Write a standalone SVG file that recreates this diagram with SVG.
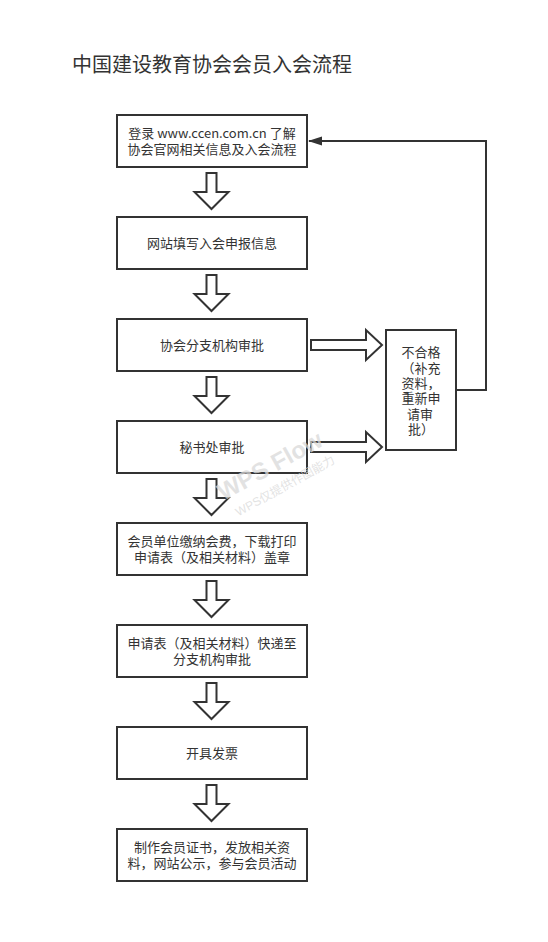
<svg xmlns="http://www.w3.org/2000/svg" width="548" height="942" viewBox="0 0 548 942">
<defs>
<style>
.box{fill:#fff;stroke:#333;stroke-width:2}
.t{font-family:"Noto Sans CJK SC","Liberation Sans",sans-serif;font-size:13px;fill:#333;text-anchor:middle}
.title{font-family:"Noto Sans CJK SC","Liberation Sans",sans-serif;font-size:20px;fill:#333}
.blk{fill:#fff;stroke:#333;stroke-width:2;stroke-linejoin:miter}
.line{fill:none;stroke:#333;stroke-width:2}
.wm{font-family:"Liberation Sans","Noto Sans CJK SC",sans-serif;fill:#d9d9d9;fill-opacity:0.75;text-anchor:middle}
</style>
<marker id="ah" markerWidth="14" markerHeight="10" refX="13" refY="5" orient="auto" markerUnits="userSpaceOnUse">
<path d="M0,0.5 L14,5 L0,9.5 Z" fill="#333"/>
</marker>
</defs>
<rect width="548" height="942" fill="#fff"/>
<text class="title" x="72" y="72">中国建设教育协会会员入会流程</text>

<g id="connectors">
<path class="blk" d="M206.5,173 H216.5 V192 H228.5 L211.5,209 L194.5,192 H206.5 Z"/>
<path class="blk" d="M206.5,275 H216.5 V294 H228.5 L211.5,311 L194.5,294 H206.5 Z"/>
<path class="blk" d="M206.5,377 H216.5 V396 H228.5 L211.5,413 L194.5,396 H206.5 Z"/>
<path class="blk" d="M206.5,479 H216.5 V498 H228.5 L211.5,515 L194.5,498 H206.5 Z"/>
<path class="blk" d="M206.5,581 H216.5 V600 H228.5 L211.5,617 L194.5,600 H206.5 Z"/>
<path class="blk" d="M206.5,683 H216.5 V702 H228.5 L211.5,719 L194.5,702 H206.5 Z"/>
<path class="blk" d="M206.5,785 H216.5 V804 H228.5 L211.5,821 L194.5,804 H206.5 Z"/>
<path class="blk" d="M311,340 H366 V330 L382,345 L366,360 V350 H311 Z"/>
<path class="blk" d="M311,442 H366 V432 L382,447 L366,462 V452 H311 Z"/>
<path class="line" d="M456,390 H486 V141 H309" marker-end="url(#ah)"/>
</g>

<g id="n1"><rect class="box" x="117" y="115" width="190" height="52"/>
<text class="t" x="212" y="137.5">登录 www.ccen.com.cn 了解</text>
<text class="t" x="212" y="153.5">协会官网相关信息及入会流程</text></g>
<g id="n2"><rect class="box" x="117" y="217" width="190" height="52"/>
<text class="t" x="212" y="247.5">网站填写入会申报信息</text></g>
<g id="n3"><rect class="box" x="117" y="319" width="190" height="52"/>
<text class="t" x="212" y="349.5">协会分支机构审批</text></g>
<g id="n4"><rect class="box" x="117" y="421" width="190" height="52"/>
<text class="t" x="212" y="451.5">秘书处审批</text></g>
<g id="n5"><rect class="box" x="117" y="523" width="190" height="52"/>
<text class="t" x="212" y="545.5">会员单位缴纳会费，下载打印</text>
<text class="t" x="212" y="561.5">申请表（及相关材料）盖章</text></g>
<g id="n6"><rect class="box" x="117" y="625" width="190" height="52"/>
<text class="t" x="212" y="647.5">申请表（及相关材料）快递至</text>
<text class="t" x="212" y="663.5">分支机构审批</text></g>
<g id="n7"><rect class="box" x="117" y="727" width="190" height="52"/>
<text class="t" x="212" y="757.5">开具发票</text></g>
<g id="n8"><rect class="box" x="117" y="829" width="190" height="52"/>
<text class="t" x="212" y="851.5">制作会员证书，发放相关资</text>
<text class="t" x="212" y="867.5">料，网站公示，参与会员活动</text></g>
<g id="n9"><rect class="box" x="386" y="330" width="70" height="120"/>
<text class="t" x="421" y="357.4">不合格</text>
<text class="t" x="421" y="372.7">（补充</text>
<text class="t" x="421" y="388">资料，</text>
<text class="t" x="421" y="403.3">重新申</text>
<text class="t" x="420" y="418.6">请审</text>
<text class="t" x="421" y="433.9">批）</text></g>

<g id="watermark">
<text class="wm" x="270" y="474" font-size="24" font-weight="bold" transform="rotate(-29 270 466)">WPS Flow</text>
<text class="wm" x="285" y="490" font-size="12" transform="rotate(-29 285 486)">WPS仅提供作图能力</text>
</g>
</svg>
